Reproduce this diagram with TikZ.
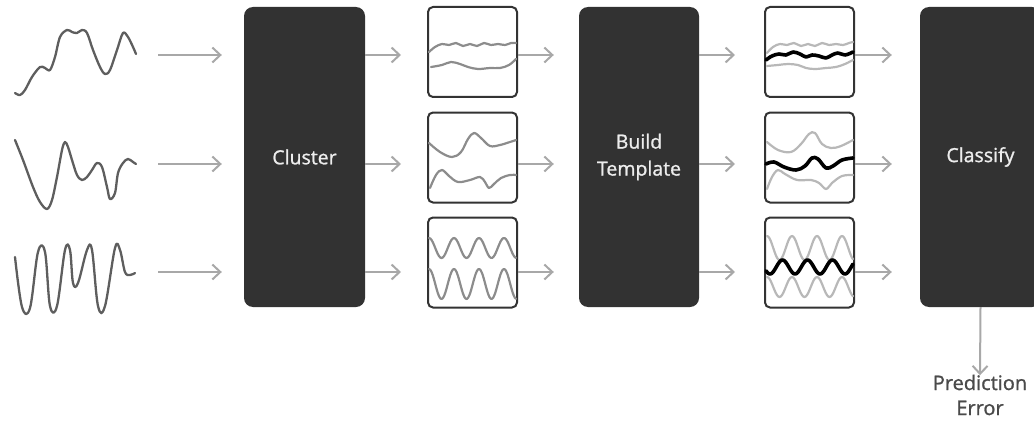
\documentclass[tikz,border=0pt]{standalone}
\usepackage{fontspec}
\setmainfont{Open Sans}
\newfontfamily\blockfont[FakeBold=1.1]{Open Sans}
\usetikzlibrary{arrows.meta}
\definecolor{blockfill}{HTML}{323232}
\definecolor{flowgray}{HTML}{A8A8A8}
\definecolor{signal}{HTML}{5E5E5E}
\definecolor{member}{HTML}{8C8C8C}
\definecolor{faded}{HTML}{B8B8B8}
\definecolor{frame}{HTML}{333333}
\definecolor{labeltext}{HTML}{4A4A4A}
\begin{document}
\begin{tikzpicture}[x=1pt,y=-1pt,
  block/.style={fill=blockfill, rounded corners=9pt, minimum width=121pt,
    minimum height=300pt, inner sep=0pt, text=white!93!black,
    font=\blockfont\fontsize{19.5}{27}\selectfont, align=center},
  panel/.style={draw=frame, line width=2pt, rounded corners=5pt,
    minimum width=89pt, minimum height=90pt, inner sep=0pt},
  flow/.style={draw=flowgray, line width=2pt,
    -{Straight Barb[length=8pt,width=15pt]}},
  signalline/.style={draw=signal, line width=2.3pt, line cap=round, line join=round},
  memberline/.style={draw=member, line width=2.2pt, line cap=round, line join=round},
  fadedline/.style={draw=faded, line width=2.2pt, line cap=round, line join=round},
  meanline/.style={draw=black, line width=3.6pt, line cap=round, line join=round}]

\useasboundingbox (0,0) rectangle (1034,436);

% ---- raw input signals ----
\draw[signalline] plot[smooth, tension=0.55] coordinates {
  (15,93) (20,95) (25,90) (32,77) (40,67) (45,68) (50,70) (55,57) (60,37)
  (67,30) (72,32) (77,33) (82,30) (87,33) (93,50) (100,67) (105,74) (110,70)
  (117,50) (123,33) (128,37) (133,47) (136,54)};
\draw[signalline] plot[smooth, tension=0.55] coordinates {
  (15,140) (23,160) (33,187) (40,202) (47,209) (52,200) (57,177) (62,150)
  (65,142) (68,147) (72,160) (77,175) (82,180) (87,177) (92,170) (97,163)
  (102,167) (107,187) (110,199) (115,193) (118,173) (123,163) (128,159)
  (133,162) (136,164)};
\draw[signalline] plot[smooth, tension=0.6] coordinates {
  (15,257) (22,307) (30,308) (38,252) (45,252) (50,306) (57,306) (65,250)
  (70,250) (73,283) (78,283) (87,250) (92,250) (98,306) (105,306) (115,248)
  (120,250) (125,272) (130,275) (135,273)};

\node[coordinate] (s1) at (136,55) {};
\node[coordinate] (s2) at (136,164) {};
\node[coordinate] (s3) at (136,272) {};

% ---- processing blocks ----
\node[block] (cluster) at (304.5,157) {Cluster};
\node[block, minimum width=120pt] (build) at (639,157) {Build\\Template};
\node[block] (classify) at (980.5,157) {Classify};

% ---- cluster panels ----
\node[panel] (c1) at (472.5,52) {};
\node[panel] (c2) at (472.5,157.5) {};
\node[panel] (c3) at (472.5,262.5) {};

\draw[memberline] plot[smooth, tension=0.6] coordinates {
  (429,52) (435,47) (442,44) (449,45) (456,43) (463,46) (470,44) (477,46)
  (484,43) (491,45) (498,44) (505,45) (511,43) (516,43)};
\draw[memberline] plot[smooth, tension=0.6] coordinates {
  (431,67) (442,65) (451,62) (460,64) (468,67) (478,69) (490,68) (500,68)
  (509,65) (516,59)};

\draw[memberline] plot[smooth, tension=0.6] coordinates {
  (429,143) (440,152) (452,157) (461,152) (468,139) (474,133) (481,138)
  (490,146) (500,145) (510,142) (516,140)};
\draw[memberline] plot[smooth, tension=0.6] coordinates {
  (430,188) (436,175) (442,170) (449,176) (458,182) (470,180) (480,177)
  (485,182) (489,188) (494,184) (501,178) (510,175) (516,175)};

% periodic members: phase in degrees is 14.4 per pt (25pt period)
\draw[memberline] plot[domain=0:87, samples=70, smooth]
  ({429+\x},{248-10*cos(14.4*\x)});
\draw[memberline] plot[domain=0:87, samples=70, smooth]
  ({429+\x},{284-15*cos(14.4*\x)});

% ---- template panels ----
\node[panel] (t1) at (809.5,52) {};
\node[panel] (t2) at (809.5,157.5) {};
\node[panel] (t3) at (809.5,262.5) {};

\draw[fadedline] plot[smooth, tension=0.6] coordinates {
  (767,53) (773,47) (780,44) (787,45) (794,43) (801,46) (808,44) (815,46)
  (822,43) (829,45) (836,44) (843,45) (849,43) (853,42)};
\draw[fadedline] plot[smooth, tension=0.6] coordinates {
  (767,66) (778,65) (788,64) (798,65) (806,68) (815,69) (826,68) (836,67)
  (845,64) (853,60)};
\draw[meanline] plot[smooth, tension=0.6] coordinates {
  (766,60) (772,56) (779,54) (786,55) (793,52) (800,54) (806,57) (812,55)
  (819,56) (826,58) (832,55) (838,53) (845,55) (853,52)};

\draw[fadedline] plot[smooth, tension=0.6] coordinates {
  (767,142) (778,150) (791,152) (801,144) (809,134) (815,133) (822,144)
  (831,148) (841,146) (853,140)};
\draw[fadedline] plot[smooth, tension=0.6] coordinates {
  (767,189) (772,177) (778,170) (785,174) (797,180) (811,180) (819,183)
  (826,189) (832,183) (842,176) (853,175)};
\draw[meanline] plot[smooth, tension=0.6] coordinates {
  (766,164) (774,162) (784,167) (796,170) (805,166) (812,158) (818,159)
  (826,168) (833,166) (842,160) (853,158)};

\draw[fadedline] plot[domain=0:86, samples=70, smooth]
  ({767+\x},{248-12*cos(14.4*\x)});
\draw[fadedline] plot[domain=0:86, samples=70, smooth]
  ({767+\x},{287-10*cos(14.4*\x)});
\draw[meanline] plot[domain=0:87, samples=70, smooth]
  ({766+\x},{267+7*cos(14.4*(\x-4))});

% ---- connectors ----
\node[coordinate] (r1) at (0,55) {};
\node[coordinate] (r2) at (0,164) {};
\node[coordinate] (r3) at (0,272) {};

\foreach \s/\r in {s1/r1, s2/r2, s3/r3}{
  \draw[flow, shorten <=22pt, shorten >=22pt] (\s) -- (cluster.west |- \r);
}
\foreach \p/\r in {c1/r1, c2/r2, c3/r3}{
  \draw[flow, shorten >=26pt] (cluster.east |- \r) -- (\p.west |- \r);
  \draw[flow, shorten >=25pt] (\p.east |- \r) -- (build.west |- \r);
}
\foreach \p/\r in {t1/r1, t2/r2, t3/r3}{
  \draw[flow, shorten >=29pt] (build.east |- \r) -- (\p.west |- \r);
  \draw[flow, shorten >=28pt] (\p.east |- \r) -- (classify.west |- \r);
}

\node[font=\blockfont\fontsize{20}{25}\selectfont, text=labeltext, align=center]
  (error) at (980,395) {Prediction\\Error};
\draw[flow] (classify.south) -- ([yshift=-4pt]error.north);
\end{tikzpicture}
\end{document}
